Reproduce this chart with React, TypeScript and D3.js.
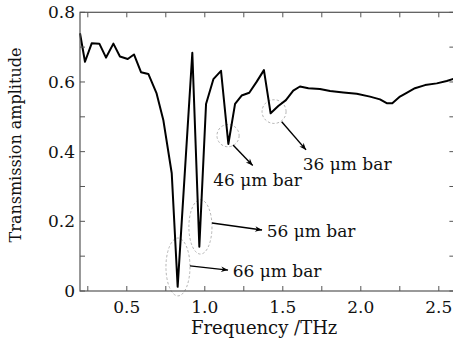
import * as d3 from "d3";

// transmission spectrum
const freq = [
  0.2, 0.232, 0.275, 0.324, 0.367, 0.414, 0.456, 0.506, 0.546, 0.591, 0.638, 0.691, 0.734, 0.788,
  0.826, 0.92, 0.965, 1.008, 1.055, 1.104, 1.151, 1.194, 1.236, 1.285, 1.333, 1.379, 1.422, 1.471,
  1.52, 1.567, 1.61, 1.664, 1.738, 1.803, 1.888, 1.974, 2.059, 2.123, 2.166, 2.202, 2.251, 2.294,
  2.347, 2.412, 2.487, 2.551, 2.6,
];
const amp = [
  0.74, 0.658, 0.711, 0.71, 0.67, 0.71, 0.673, 0.666, 0.679, 0.628, 0.623, 0.567, 0.491, 0.338,
  0.012, 0.684, 0.127, 0.537, 0.608, 0.632, 0.422, 0.537, 0.561, 0.569, 0.601, 0.634, 0.51, 0.531,
  0.548, 0.575, 0.587, 0.582, 0.58, 0.574, 0.57, 0.566, 0.558, 0.55, 0.539, 0.539, 0.558, 0.569,
  0.582, 0.591, 0.596, 0.603, 0.61,
];

const xTicks = [0.5, 1.0, 1.5, 2.0, 2.5];
const yTicks = [0, 0.2, 0.4, 0.6, 0.8];

// dip annotations (data units)
const notes = [
  { label: "66 μm bar", cx: 0.828, cy: 0.069, rx: 0.077, ry: 0.083, ax: [0.905, 0.072], bx: [1.149, 0.06], tx: 1.179, ty: 0.04 },
  { label: "56 μm bar", cx: 0.972, cy: 0.184, rx: 0.074, ry: 0.078, ax: [1.046, 0.195], bx: [1.367, 0.175], tx: 1.397, ty: 0.156 },
  { label: "46 μm bar", cx: 1.149, cy: 0.446, rx: 0.071, ry: 0.032, ax: [1.181, 0.419], bx: [1.307, 0.36], tx: 1.054, ty: 0.301 },
  { label: "36 μm bar", cx: 1.444, cy: 0.515, rx: 0.077, ry: 0.034, ax: [1.493, 0.486], bx: [1.649, 0.405], tx: 1.628, ty: 0.347 },
];

const W = 453;
const H = 343;
const margin = { top: 12.3, right: -1.4, bottom: 52, left: 80 };
const font = "'DejaVu Serif', serif";

export default function App() {
  const x = d3.scaleLinear().domain([0.2, 2.6]).range([margin.left, W - margin.right]);
  const y = d3.scaleLinear().domain([0, 0.8]).range([H - margin.bottom, margin.top]);
  const pts: [number, number][] = freq.map((f, i) => [f, amp[i]]);
  const line = d3
    .line<[number, number]>()
    .x((d) => x(d[0]))
    .y((d) => y(d[1]));

  const x0 = margin.left;
  const x1 = W - margin.right;
  const y0 = H - margin.bottom;
  const y1 = margin.top;
  const axisCol = "#555";
  const minorX = d3.range(0.25, 2.6, 0.25);
  const minorY = d3.range(0, 0.81, 0.1);

  return (
    <svg
      width={W}
      height={H}
      style={{ position: "absolute", left: 0, top: 0, background: "#fff" }}
      fontFamily={font}
    >
      <defs>
        <marker id="arr" viewBox="0 0 10 10" refX={10} refY={5} markerWidth={10} markerHeight={7} orient="auto" markerUnits="userSpaceOnUse">
          <path d="M0,1 L10,5 L0,9 L3,5 Z" fill="#000" />
        </marker>
      </defs>

      {notes.map((n) => (
        <ellipse
          key={n.label + "e"}
          cx={x(n.cx)}
          cy={y(n.cy)}
          rx={x(n.cx + n.rx) - x(n.cx)}
          ry={y(n.cy) - y(n.cy + n.ry)}
          fill="none"
          stroke="#b5b5b5"
          strokeWidth={1}
          strokeDasharray="2.5,2"
        />
      ))}

      <path d={line(pts) ?? ""} fill="none" stroke="#000" strokeWidth={2} strokeLinejoin="round" />

      {notes.map((n) => (
        <g key={n.label}>
          <line
            x1={x(n.ax[0])}
            y1={y(n.ax[1])}
            x2={x(n.bx[0])}
            y2={y(n.bx[1])}
            stroke="#000"
            strokeWidth={1.4}
            markerEnd="url(#arr)"
          />
          <text x={x(n.tx)} y={y(n.ty)} fontSize={17} fill="#111">
            {n.label}
          </text>
        </g>
      ))}

      {/* frame */}
      <rect x={x0} y={y1} width={x1 - x0} height={y0 - y1} fill="none" stroke={axisCol} strokeWidth={1.2} />

      {minorX.map((t) => (
        <g key={"xt" + t}>
          <line x1={x(t)} x2={x(t)} y1={y0} y2={y0 - 5} stroke={axisCol} strokeWidth={1} />
          <line x1={x(t)} x2={x(t)} y1={y1} y2={y1 + 5} stroke={axisCol} strokeWidth={1} />
        </g>
      ))}
      {minorY.map((t) => (
        <g key={"yt" + t}>
          <line x1={x0} x2={x0 + 5} y1={y(t)} y2={y(t)} stroke={axisCol} strokeWidth={1} />
          <line x1={x1} x2={x1 - 5} y1={y(t)} y2={y(t)} stroke={axisCol} strokeWidth={1} />
        </g>
      ))}

      {xTicks.map((t) => (
        <text key={"xl" + t} x={x(t)} y={y0 + 22} textAnchor="middle" fontSize={17} fill="#111">
          {t.toFixed(1)}
        </text>
      ))}
      {yTicks.map((t) => (
        <text key={"yl" + t} x={x0 - 5} y={y(t)} dy="0.35em" textAnchor="end" fontSize={17} fill="#111">
          {t === 0 ? "0" : t.toFixed(1)}
        </text>
      ))}

      <text x={(x0 + x1) / 2 - 3} y={334} textAnchor="middle" fontSize={18} fill="#111">
        Frequency /THz
      </text>
      <text
        transform={`translate(21,145) rotate(-90)`}
        textAnchor="middle"
        fontSize={16}
        fill="#111"
      >
        Transmission amplitude
      </text>
    </svg>
  );
}
